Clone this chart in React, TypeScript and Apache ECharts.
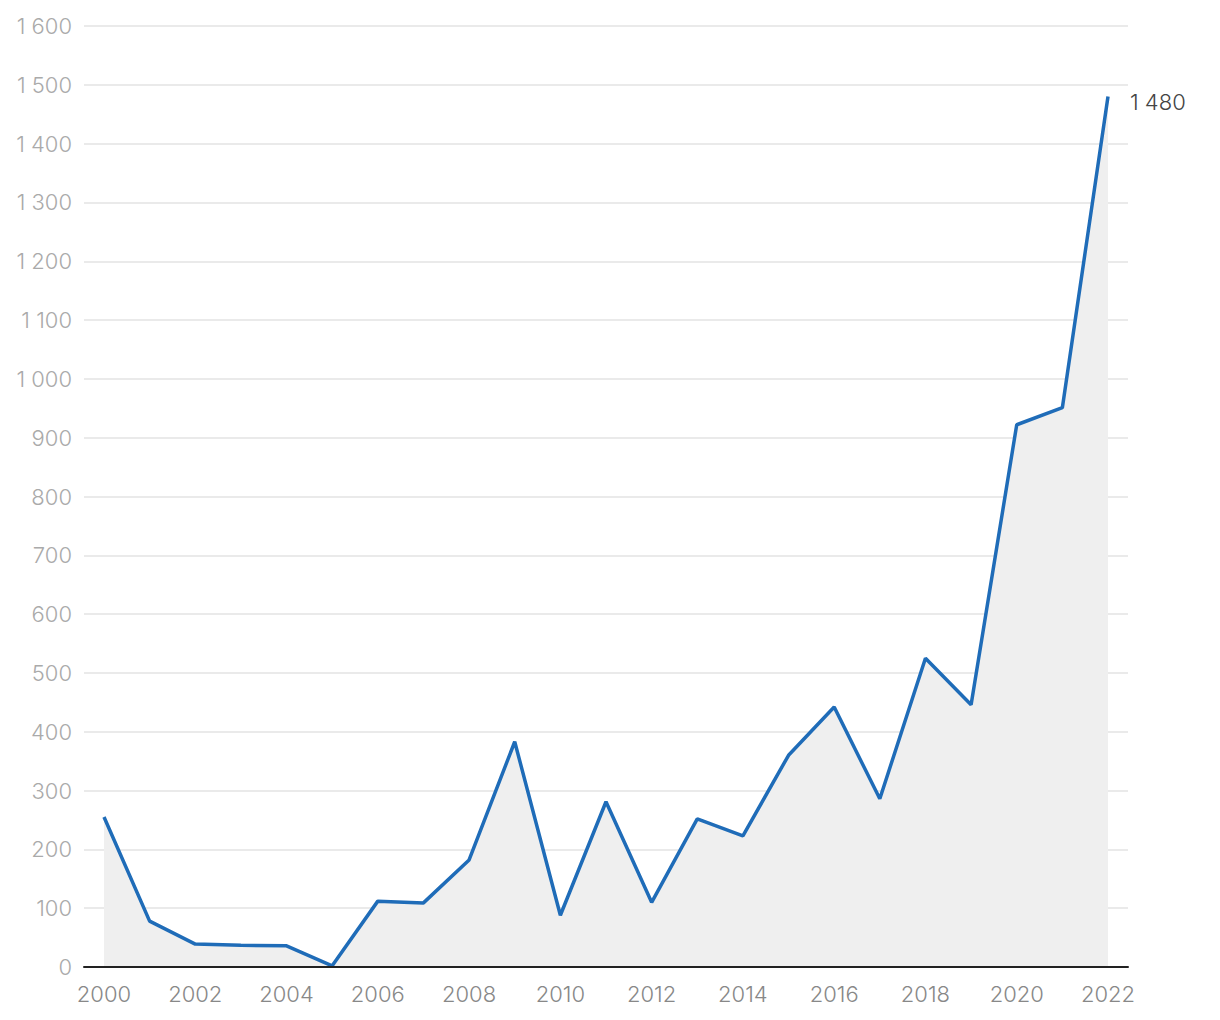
import React, { useEffect, useRef } from "react";
import * as echarts from "echarts";

const years = [2000, 2001, 2002, 2003, 2004, 2005, 2006, 2007, 2008, 2009, 2010, 2011, 2012, 2013, 2014, 2015, 2016, 2017, 2018, 2019, 2020, 2021, 2022];
const values = [255, 78, 39, 37, 36, 2, 112, 109, 182, 383, 88, 281, 110, 252, 223, 360, 442, 286, 525, 446, 922, 951, 1480];

const fmt = (v: number) => {
  const s = String(Math.round(v));
  return s.replace(/\B(?=(\d{3})+(?!\d))/g, " ");
};

const FONT = "Inter";

export default function App() {
  const ref = useRef<HTMLDivElement>(null);
  useEffect(() => {
    const chart = echarts.init(ref.current!, undefined, { renderer: "svg" });
    const data = years.map((y, i) => [y, values[i]]);
    chart.setOption({
      animation: false,
      grid: [
        { left: 76, right: 84, top: 18, bottom: 45 },
        { left: 96, right: 104, top: 18, bottom: 45 },
      ],
      xAxis: [
        {
          gridIndex: 0,
          type: "value",
          min: 0,
          max: 1,
          z: 10,
          axisLine: { show: true, lineStyle: { color: "#222", width: 2 } },
          axisTick: { show: false },
          axisLabel: { show: false },
          splitLine: { show: false },
        },
        {
          gridIndex: 1,
          type: "value",
          min: 2000,
          max: 2022,
          interval: 2,
          axisLine: { show: false },
          axisTick: { show: false },
          splitLine: { show: false },
          axisLabel: {
            color: "#888",
            fontSize: 22,
            fontFamily: FONT,
            fontWeight: 300,
            margin: 16,
            formatter: (v: number) => String(v),
          },
        },
      ],
      yAxis: [
        {
          gridIndex: 0,
          type: "value",
          min: 0,
          max: 1600,
          interval: 100,
          axisLine: { show: false },
          axisTick: { show: false },
          splitLine: { lineStyle: { color: "#e3e3e3", width: 1.5 } },
          axisLabel: {
            color: "#aaa",
            fontSize: 22,
            fontFamily: FONT,
            fontWeight: 300,
            margin: 12,
            formatter: (v: number) => fmt(v),
          },
        },
        {
          gridIndex: 1,
          type: "value",
          min: 0,
          max: 1600,
          interval: 100,
          show: false,
        },
      ],
      series: [
        {
          type: "line",
          xAxisIndex: 1,
          yAxisIndex: 1,
          data: data,
          symbol: "none",
          lineStyle: { color: "#1f6cb8", width: 3.5 },
          itemStyle: { color: "#1f6cb8" },
          areaStyle: { color: "#efefef", opacity: 1 },
          z: 3,
          endLabel: {
            show: true,
            formatter: (p: any) => fmt(p.value[1]),
            color: "#444",
            fontSize: 22,
            fontFamily: FONT,
            fontWeight: 300,
            offset: [14, 5],
          },
        },
      ],
    });
    return () => chart.dispose();
  }, []);
  return <div ref={ref} style={{ width: 1204, height: 1004 }} />;
}
